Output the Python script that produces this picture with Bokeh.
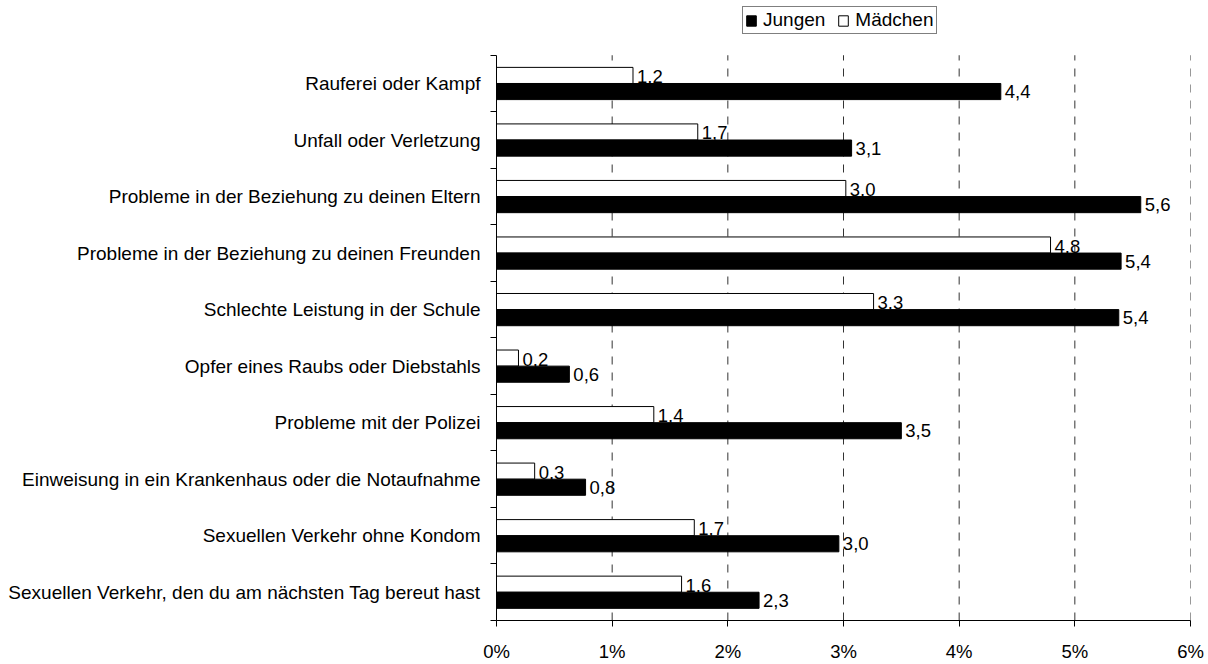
from bokeh.plotting import figure
from bokeh.models import (ColumnDataSource, FixedTicker, Legend, LegendItem,
                          Range1d, PrintfTickFormatter)
from bokeh.transform import dodge
from bokeh.core.properties import value
from bokeh.embed import file_html
from bokeh.resources import INLINE

# ---- data ----
categories = [
    "Rauferei oder Kampf",
    "Unfall oder Verletzung",
    "Probleme in der Beziehung zu deinen Eltern",
    "Probleme in der Beziehung zu deinen Freunden",
    "Schlechte Leistung in der Schule",
    "Opfer eines Raubs oder Diebstahls",
    "Probleme mit der Polizei",
    "Einweisung in ein Krankenhaus oder die Notaufnahme",
    "Sexuellen Verkehr ohne Kondom",
    "Sexuellen Verkehr, den du am nächsten Tag bereut hast",
]
jungen = [4.36, 3.07, 5.57, 5.40, 5.38, 0.63, 3.50, 0.77, 2.96, 2.27]
maedchen = [1.18, 1.74, 3.02, 4.79, 3.26, 0.19, 1.36, 0.33, 1.71, 1.60]
series = ["Jungen", "Mädchen"]
x_ticks = [0, 1, 2, 3, 4, 5, 6]


def fmt(v):
    return f"{v:.1f}".replace(".", ",")


n = len(categories)
ypos = [n - 1 - i for i in range(n)]
src = ColumnDataSource(dict(
    y=ypos, cat=categories, jungen=jungen, maedchen=maedchen,
    jl=[fmt(v) for v in jungen], ml=[fmt(v) for v in maedchen],
))

FONT = "Liberation Sans"
FS = "18.5px"
BAR_H = 0.285
OFF = BAR_H / 2

# layout (pixels)
W, H = 1208, 664
ML, MR, MB = 496, 18, 41
TOP_GAP = 55                       # space above the bar area for the legend
FH = H - MB                        # frame spans from the very top
unit = (FH - TOP_GAP) / n          # pixels per category
y_lo, y_hi = -0.5, n - 0.5
y_top = y_hi + TOP_GAP / unit

p = figure(
    width=W, height=H,
    x_range=Range1d(0, 6), y_range=Range1d(y_lo, y_top),
    output_backend="svg", toolbar_location=None,
    min_border_left=ML, min_border_right=MR,
    min_border_top=0, min_border_bottom=MB,
)
p.outline_line_color = None
p.background_fill_color = "white"
p.border_fill_color = "white"
p.xgrid.visible = False
p.ygrid.visible = False

# dashed vertical grid lines limited to the bar area
gsrc = ColumnDataSource(dict(x=x_ticks[1:]))
p.segment(x0="x", x1="x", y0=y_lo, y1=y_hi, source=gsrc,
          line_color="#333333", line_dash="8 8", line_width=1,
          level="underlay")

rm = p.hbar(y=dodge("y", OFF), left=0, right="maedchen", height=BAR_H,
            fill_color="white", line_color="black", line_width=1, source=src)
rj = p.hbar(y=dodge("y", -OFF), left=0, right="jungen", height=BAR_H,
            fill_color="black", line_color="black", line_width=1, source=src)

p.text(x="maedchen", y=dodge("y", OFF), text="ml", source=src,
       x_offset=4, y_offset=1, text_baseline="middle", text_align="left",
       text_font=value(FONT), text_font_size=FS, text_color="black")
p.text(x="jungen", y=dodge("y", -OFF), text="jl", source=src,
       x_offset=4, text_baseline="middle", text_align="left",
       text_font=value(FONT), text_font_size=FS, text_color="black")

# x axis
xa = p.xaxis[0]
xa.ticker = FixedTicker(ticks=x_ticks)
xa.formatter = PrintfTickFormatter(format="%d%%")
xa.major_tick_out = 6
xa.major_tick_in = 0
xa.minor_tick_out = 0
xa.minor_tick_in = 0
xa.axis_line_color = "black"
xa.major_tick_line_color = "black"
xa.major_label_standoff = 14
xa.major_label_text_font = FONT
xa.major_label_text_font_size = FS
xa.major_label_text_color = "black"

# y axis
ya = p.yaxis[0]
ya.bounds = (y_lo, y_hi)
ya.ticker = FixedTicker(ticks=ypos, minor_ticks=[k - 0.5 for k in range(n + 1)])
ya.major_label_overrides = {y: c for y, c in zip(ypos, categories)}
ya.major_tick_out = 0
ya.major_tick_in = 0
ya.minor_tick_out = 6
ya.minor_tick_in = 0
ya.minor_tick_line_color = "black"
ya.axis_line_color = "black"
ya.major_label_standoff = 10
ya.major_label_text_font = FONT
ya.major_label_text_font_size = "19px"
ya.major_label_text_color = "black"

legend = Legend(
    items=[LegendItem(label=series[0], renderers=[rj]),
           LegendItem(label=series[1], renderers=[rm])],
    orientation="horizontal", location=(246, FH - 37), margin=0, padding=2,
    spacing=12, label_standoff=6, glyph_width=12, glyph_height=13,
    label_height=19, label_text_font=FONT, label_text_font_size="19px",
    label_text_color="black", border_line_color="black",
    border_line_width=1, background_fill_color="white",
)
p.add_layout(legend, "center")

open("out.html", "w").write(file_html(p, INLINE))
